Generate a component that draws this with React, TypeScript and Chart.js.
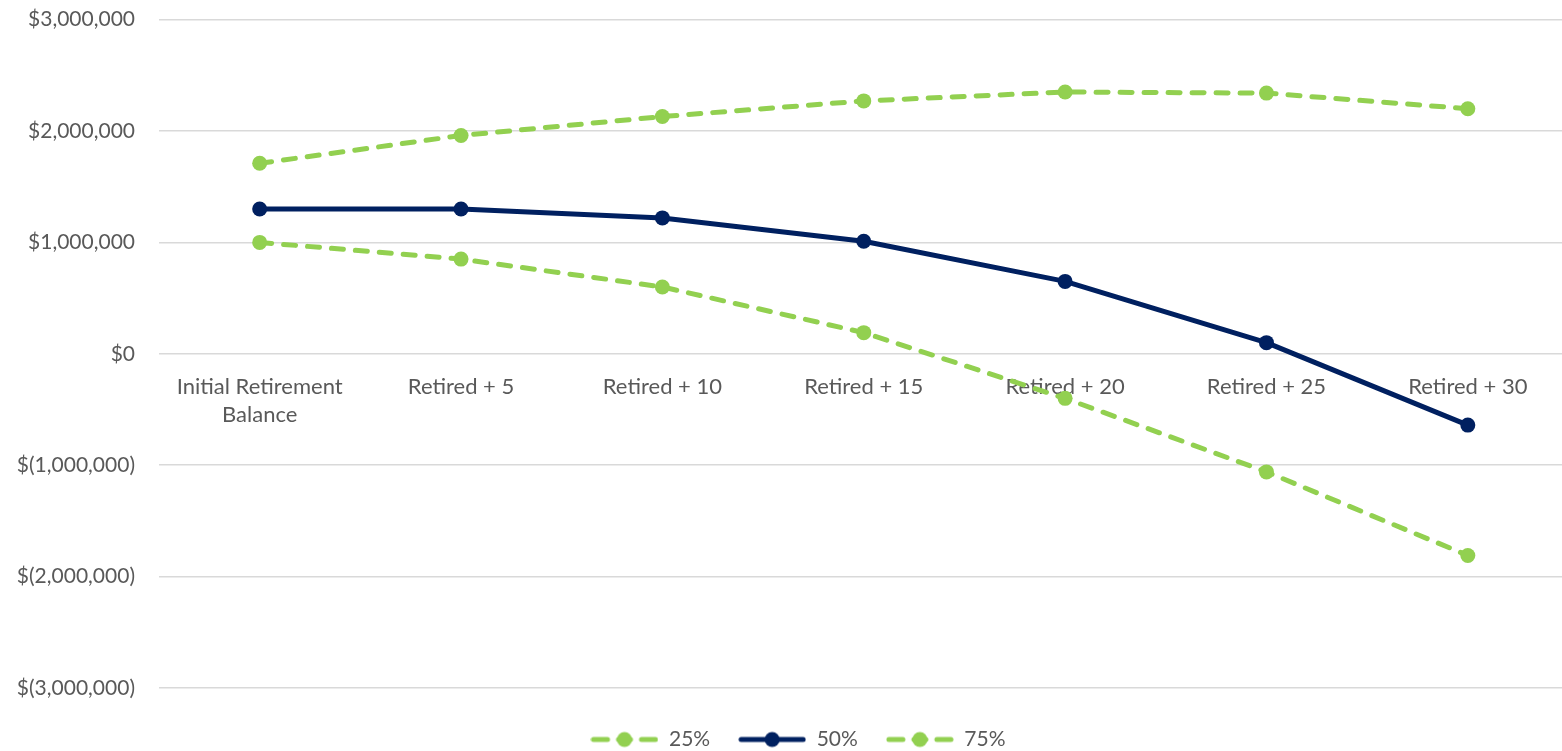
import React, { useEffect, useRef } from "react";
import { Chart, registerables } from "chart.js";

Chart.register(...registerables);

const categories: (string | string[])[] = [
  ["Initial Retirement", "Balance"],
  "Retired + 5",
  "Retired + 10",
  "Retired + 15",
  "Retired + 20",
  "Retired + 25",
  "Retired + 30",
];

const p25 = [1000000, 850000, 600000, 190000, -400000, -1060000, -1810000];
const p50 = [1300000, 1300000, 1220000, 1010000, 650000, 100000, -640000];
const p75 = [1710000, 1960000, 2130000, 2270000, 2350000, 2340000, 2200000];

const seriesLabels = ["25%", "50%", "75%"];

const GREEN = "#92D050";
const NAVY = "#002060";
const TEXT = "#595959";
const GRID = "#d9d9d9";
const FONT = "Lato";

function makeMarker(color: string, dashed: boolean): HTMLCanvasElement {
  const c = document.createElement("canvas");
  const w = 68;
  const h = 18;
  c.width = w;
  c.height = h;
  const ctx = c.getContext("2d")!;
  ctx.strokeStyle = color;
  ctx.fillStyle = color;
  ctx.lineWidth = 5;
  ctx.lineCap = "round";
  if (dashed) {
    ctx.beginPath();
    ctx.moveTo(3, h / 2);
    ctx.lineTo(17, h / 2);
    ctx.stroke();
    ctx.beginPath();
    ctx.moveTo(28, h / 2);
    ctx.lineTo(40, h / 2);
    ctx.stroke();
    ctx.beginPath();
    ctx.moveTo(51, h / 2);
    ctx.lineTo(65, h / 2);
    ctx.stroke();
  } else {
    ctx.beginPath();
    ctx.moveTo(3, h / 2);
    ctx.lineTo(65, h / 2);
    ctx.stroke();
  }
  ctx.beginPath();
  ctx.arc(w / 2, h / 2, 7.5, 0, Math.PI * 2);
  ctx.fill();
  return c;
}

function fmt(v: number): string {
  const s = Math.abs(v).toLocaleString("en-US");
  return v < 0 ? "$(" + s + ")" : "$" + s;
}

const legendShift = {
  id: "legendShift",
  afterLayout(chart: any) {
    const lg = chart.legend;
    if (!lg) return;
    const dy = 13;
    const dx = 10;
    lg.top += dy;
    lg.bottom += dy;
    lg.left += dx;
    lg.right += dx;
    if (lg.legendHitBoxes) {
      lg.legendHitBoxes.forEach((b: any) => {
        b.top += dy;
        b.left += dx;
      });
    }
  },
};

export default function App() {
  const ref = useRef<HTMLCanvasElement | null>(null);

  useEffect(() => {
    if (!ref.current) return;
    const markers = [
      makeMarker(GREEN, true),
      makeMarker(NAVY, false),
      makeMarker(GREEN, true),
    ];
    const common = {
      borderWidth: 5,
      pointRadius: 7.5,
      pointHoverRadius: 7.5,
      pointBorderWidth: 0,
      pointStyle: "circle" as const,
      tension: 0,
      borderCapStyle: "round" as const,
      borderJoinStyle: "round" as const,
    };
    const chart = new Chart(ref.current, {
      type: "line",
      plugins: [legendShift],
      data: {
        labels: categories,
        datasets: [
          {
            label: seriesLabels[0],
            data: p25,
            borderColor: GREEN,
            backgroundColor: GREEN,
            pointBackgroundColor: GREEN,
            borderDash: [12, 12],
            ...common,
          },
          {
            label: seriesLabels[1],
            data: p50,
            borderColor: NAVY,
            backgroundColor: NAVY,
            pointBackgroundColor: NAVY,
            ...common,
          },
          {
            label: seriesLabels[2],
            data: p75,
            borderColor: GREEN,
            backgroundColor: GREEN,
            pointBackgroundColor: GREEN,
            borderDash: [12, 12],
            ...common,
          },
        ],
      },
      options: {
        animation: false,
        responsive: true,
        maintainAspectRatio: false,
        layout: { padding: { top: 19, bottom: 4, left: 0, right: 0 } },
        plugins: {
          tooltip: { enabled: false },
          legend: {
            position: "bottom",
            labels: {
              usePointStyle: true,
              pointStyleWidth: 68,
              padding: 28,
              color: TEXT,
              font: { family: FONT, size: 21 },
              generateLabels: (ch: any) =>
                ch.data.datasets.map((ds: any, i: number) => ({
                  text: ds.label,
                  pointStyle: markers[i],
                  fillStyle: ds.borderColor,
                  strokeStyle: ds.borderColor,
                  lineWidth: 0,
                  fontColor: TEXT,
                  hidden: false,
                  datasetIndex: i,
                })),
            },
          },
        },
        scales: {
          x: {
            position: { y: 0 } as any,
            offset: true,
            afterFit: (s: any) => {
              s.paddingTop = 0;
              s.paddingBottom = 0;
              s.paddingLeft = 0;
              s.paddingRight = 0;
            },
            grid: { display: false, drawTicks: false, offset: true },
            border: { display: false },
            ticks: {
              color: TEXT,
              font: { family: FONT, size: 22, lineHeight: 1.27 },
              padding: 19,
              maxRotation: 0,
              autoSkip: false,
            },
          },
          y: {
            min: -3000000,
            max: 3000000,
            afterFit: (s: any) => {
              s.width = 159;
            },
            grid: { color: GRID, lineWidth: 1.5, drawTicks: false },
            border: { display: false },
            ticks: {
              stepSize: 1000000,
              color: TEXT,
              font: { family: FONT, size: 21 },
              padding: 24,
              callback: (v: any) => fmt(Number(v)),
            },
          },
        },
      },
    });
    return () => chart.destroy();
  }, []);

  return (
    <div
      style={{
        position: "fixed",
        left: 0,
        top: -17,
        width: 1576,
        height: 768,
        background: "#fff",
      }}
    >
      <canvas ref={ref} />
    </div>
  );
}
